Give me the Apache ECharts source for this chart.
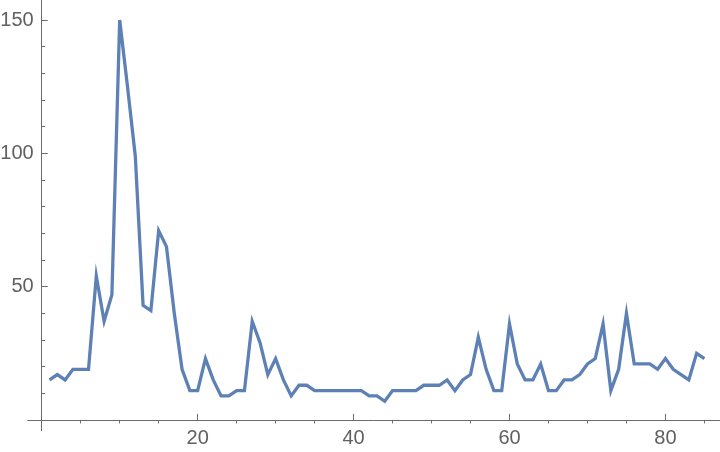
<!DOCTYPE html>
<html>
<head>
<meta charset="utf-8">
<script src="https://cdn.jsdelivr.net/npm/echarts@6/dist/echarts.min.js"></script>
<style>
html,body{margin:0;padding:0;background:#fff;}
#c{width:720px;height:452px;}
</style>
</head>
<body>
<div id="c"></div>
<script>
var xValues = [];
for (var i = 1; i <= 85; i++) xValues.push(i);
var yValues = [15,17,15,19,19,19,54,37,47,150,
  125,99,43,41,71,65,40,19,11,11,
  23,15,9,9,11,11,37,29,17,23,
  15,9,13,13,11,11,11,11,11,11,
  11,9,9,7,11,11,11,11,13,13,
  13,15,11,15,17,31,19,11,11,36,
  21,15,15,21,11,11,15,15,17,21,
  23,36,11,19,40,21,21,21,19,23,
  19,17,15,25,23];
var xMajorTicks = [20,40,60,80];
var xMinorTicks = [5,10,15,25,30,35,45,50,55,65,70,75,85];
var yMajorTicks = [50,100,150];
var yMinorTicks = [10,20,30,40,60,70,80,90,110,120,130,140];

var data = xValues.map(function(x, i){ return [x, yValues[i]]; });
var axisColor = '#6b6b6b';
var labelStyle = {color:'#606060', fontSize:20, fontFamily:'Liberation Sans, Arial, sans-serif'};

var chart = echarts.init(document.getElementById('c'), null, {renderer:'canvas'});
chart.setOption({
  animation:false,
  grid:{left:27.7, right:0, top:0, bottom:21.4, containLabel:false, outerBoundsMode:'none'},
  xAxis:[{
    type:'value', min:-1.8, max:87,
    axisLine:{onZero:true, lineStyle:{color:axisColor, width:1}},
    axisTick:{show:true, inside:true, length:6, customValues:xMajorTicks, lineStyle:{color:axisColor}},
    axisLabel:{show:true, customValues:xMajorTicks, margin:-2, color:labelStyle.color, fontSize:labelStyle.fontSize, fontFamily:labelStyle.fontFamily},
    splitLine:{show:false}
  },{
    type:'value', min:-1.8, max:87,
    axisLine:{show:false, onZero:true},
    axisTick:{show:true, inside:true, length:3.5, customValues:xMinorTicks, lineStyle:{color:axisColor}},
    axisLabel:{show:false},
    splitLine:{show:false}
  }],
  yAxis:[{
    type:'value', min:-4, max:157.5,
    axisLine:{onZero:true, lineStyle:{color:axisColor, width:1}},
    axisTick:{show:true, inside:true, length:6, customValues:yMajorTicks, lineStyle:{color:axisColor}},
    axisLabel:{show:true, customValues:yMajorTicks, margin:-6, color:labelStyle.color, fontSize:labelStyle.fontSize, fontFamily:labelStyle.fontFamily},
    splitLine:{show:false}
  },{
    type:'value', min:-4, max:157.5, position:'left',
    axisLine:{show:false, onZero:true},
    axisTick:{show:true, inside:true, length:3.5, customValues:yMinorTicks, lineStyle:{color:axisColor}},
    axisLabel:{show:false},
    splitLine:{show:false}
  }],
  series:[{
    type:'line', data:data, xAxisIndex:0, yAxisIndex:0,
    showSymbol:false, symbol:'none',
    lineStyle:{color:'#5e81b5', width:3.3, join:'miter'},
    z:5
  }]
});
</script>
</body>
</html>
